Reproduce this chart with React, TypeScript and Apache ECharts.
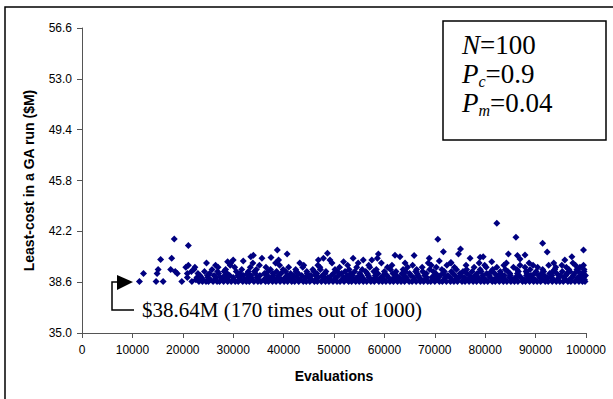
import { useEffect, useRef } from "react";
import * as echarts from "echarts";

// Axis settings
const Y_MIN = 35.0;
const Y_MAX = 56.6;
const Y_STEP = 3.6;
const X_MIN = 0;
const X_MAX = 100000;
const X_STEP = 10000;

// Evaluations (in thousands) of GA runs that ended at each least-cost level ($M)
const runs3864 = [11.4, 14.7, 16.1, 19.8, 21.8, 23.2, 23.9, 24.6, 25.1, 26.0, 26.8, 27.3, 28.1, 28.9, 29.6, 30.4, 31.0, 31.9, 32.6, 33.2, 34.1, 34.9, 35.5, 36.4, 37.0, 37.8, 38.5, 39.3, 40.1, 40.8, 41.6, 42.2, 43.0, 43.9, 44.5, 45.2, 46.1, 46.7, 47.5, 48.3, 49.0, 49.8, 50.6, 51.2, 52.0, 52.9, 53.5, 54.3, 55.0, 55.8, 56.5, 57.3, 58.0, 58.9, 59.6, 60.3, 61.1, 61.8, 62.6, 63.3, 64.0, 64.9, 65.5, 66.3, 67.1, 67.8, 68.6, 69.2, 70.0, 70.9, 71.5, 72.3, 73.1, 73.8, 74.5, 75.4, 76.0, 76.8, 77.6, 78.3, 79.1, 79.8, 80.5, 81.4, 82.0, 82.8, 83.6, 84.3, 85.1, 85.8, 86.5, 87.4, 88.0, 88.8, 89.6, 90.3, 91.0, 91.9, 92.5, 93.3, 94.1, 94.8, 95.5, 96.4, 97.0, 97.8, 98.6, 99.3, 99.8];
const runs3878 = [22.6, 24.0, 25.5, 26.4, 27.9, 29.0, 30.2, 31.5, 32.3, 33.8, 35.0, 36.1, 37.3, 38.2, 39.6, 40.5, 41.9, 43.3, 44.1, 45.6, 46.4, 47.9, 49.3, 50.1, 51.6, 52.4, 53.9, 55.2, 56.0, 57.6, 58.5, 59.9, 61.4, 62.2, 63.7, 64.5, 66.0, 67.3, 68.1, 69.6, 70.4, 71.8, 73.4, 74.2, 75.7, 76.6, 77.9, 79.4, 80.1, 81.7, 82.5, 83.9, 85.4, 86.2, 87.7, 88.4, 89.9, 91.3, 92.1, 93.6, 94.4, 95.9, 96.7, 98.1, 99.0, 99.7];
const runs3893 = [20.9, 22.8, 23.7, 25.0, 26.6, 27.5, 28.6, 30.0, 31.2, 32.9, 33.6, 34.7, 36.6, 37.6, 38.9, 40.3, 41.2, 42.7, 44.3, 45.0, 46.9, 48.0, 48.8, 50.4, 51.9, 53.1, 54.6, 55.6, 57.0, 58.3, 59.3, 60.8, 62.0, 63.0, 64.3, 65.8, 66.9, 68.4, 69.4, 70.7, 72.1, 73.0, 74.8, 75.9, 77.2, 78.6, 79.6, 81.0, 82.3, 83.3, 84.8, 86.0, 87.1, 88.6, 89.3, 90.8, 92.3, 93.0, 94.6, 95.6, 97.2, 98.4, 99.5];
const runs3907 = [23.4, 24.9, 26.2, 28.3, 29.3, 30.9, 32.0, 33.5, 35.3, 36.8, 38.0, 39.0, 40.7, 42.0, 43.6, 45.4, 46.3, 47.7, 49.5, 50.9, 52.6, 53.7, 55.4, 56.8, 58.2, 59.8, 60.5, 62.4, 63.9, 65.2, 66.7, 68.0, 69.9, 71.1, 72.6, 74.0, 75.2, 76.9, 78.0, 79.5, 80.8, 82.6, 83.8, 85.0, 86.7, 88.2, 89.1, 90.6, 91.7, 93.2, 94.9, 96.0, 97.5, 98.9, 99.9];
const runs3922 = [12.2, 14.9, 18.9, 20.9, 23.0, 25.3, 27.1, 28.8, 31.4, 32.8, 34.4, 36.2, 37.9, 39.5, 41.4, 42.9, 44.7, 46.6, 48.2, 49.9, 51.5, 53.3, 55.1, 56.6, 58.7, 60.1, 61.7, 63.5, 65.0, 66.5, 68.3, 70.2, 71.7, 73.6, 75.0, 76.4, 78.4, 80.3, 81.9, 83.1, 84.9, 86.4, 88.3, 89.8, 91.2, 92.8, 94.2, 96.2, 97.7, 99.4];
const runs3936 = [18.5, 21.7, 24.3, 26.9, 28.2, 30.6, 33.0, 34.2, 36.9, 38.6, 40.4, 42.5, 44.6, 46.0, 48.4, 50.7, 52.2, 54.1, 56.3, 57.9, 60.0, 62.3, 64.2, 66.2, 67.6, 69.7, 71.9, 73.3, 75.6, 77.4, 79.2, 81.2, 83.0, 84.5, 86.6, 88.1, 90.1, 91.6, 93.4, 95.3, 96.8, 98.5, 99.6];
const runs3950 = [15.1, 17.6, 22.2, 25.8, 28.5, 31.7, 34.6, 37.4, 39.9, 42.4, 45.8, 47.3, 50.2, 53.0, 55.6, 58.4, 61.2, 63.7, 66.4, 69.0, 71.4, 74.3, 76.3, 79.0, 81.5, 84.0, 86.3, 88.9, 91.4, 93.8, 96.6, 98.2, 99.6];
const runs3965 = [20.6, 22.4, 27.0, 30.3, 33.4, 36.5, 41.0, 43.8, 47.2, 51.1, 54.5, 57.1, 60.6, 64.6, 67.5, 70.3, 73.9, 77.8, 80.2, 82.3, 85.6, 87.9, 90.4, 94.0, 96.1, 98.8];
const runs3980 = [21.1, 26.5, 29.4, 35.2, 39.2, 44.0, 46.8, 52.7, 56.9, 61.5, 65.6, 69.3, 72.4, 76.2, 79.9, 83.7, 86.9, 89.5, 92.6, 95.2, 97.9, 99.5];
const runs3995 = [24.7, 29.5, 33.9, 38.4, 43.2, 49.6, 54.8, 59.4, 64.1, 68.7, 73.2, 78.8, 84.2, 88.7, 93.6, 97.4];

// Isolated higher-cost runs: [evaluations (thousands), cost $M]
const outlierRuns: [number, number][] = [
  [18.3, 41.66], [21.1, 41.2], [15.6, 40.2], [17.8, 40.3], [28.9, 40.05], [30.0, 40.17],
  [32.0, 40.1], [33.5, 40.4], [34.0, 40.5], [35.7, 40.3], [37.5, 40.34], [38.75, 40.88],
  [39.0, 40.17], [40.7, 40.6], [46.9, 40.17], [47.9, 40.3], [48.7, 40.65], [49.2, 40.17],
  [51.9, 40.05], [53.8, 40.3], [55.8, 40.17], [57.5, 40.17], [58.6, 40.3], [58.8, 40.6],
  [62.1, 40.5], [63.1, 40.4], [65.9, 40.48], [68.9, 40.3], [70.6, 41.64], [70.9, 40.1],
  [71.7, 40.76], [73.2, 40.0], [74.7, 40.6], [75.1, 40.95], [77.0, 40.29], [79.0, 40.36],
  [79.6, 40.4], [81.3, 40.05], [82.3, 42.77], [84.6, 40.6], [86.1, 41.78], [86.4, 40.48],
  [86.9, 40.24], [87.9, 40.53], [91.4, 41.36], [92.3, 40.74], [95.8, 40.17], [97.2, 40.4],
  [99.5, 40.88],
];

const levelRuns: [number, number[]][] = [
  [38.64, runs3864], [38.78, runs3878], [38.93, runs3893], [39.07, runs3907],
  [39.22, runs3922], [39.36, runs3936], [39.5, runs3950], [39.65, runs3965],
  [39.8, runs3980], [39.95, runs3995],
];

const legendLines = ["{i|N}{n|=100}", "{i|P}{s|c}{n|=0.9}", "{i|P}{s|m}{n|=0.04}"];
const annotationText = "$38.64M (170 times out of 1000)";

export default function App() {
  const ref = useRef<HTMLDivElement>(null);
  useEffect(() => {
    if (!ref.current) return;
    const chart = echarts.init(ref.current, null, { renderer: "svg" });
    const points: number[][] = [];
    levelRuns.forEach(([cost, runs]) => {
      runs.forEach((k) => points.push([k * 1000, cost - Y_MIN]));
    });
    outlierRuns.forEach(([k, cost]) => points.push([k * 1000, cost - Y_MIN]));

    const serif = "'Liberation Serif', 'Times New Roman', serif";
    const sans = "'Liberation Sans', Arial, sans-serif";
    const rich = {
      i: { fontFamily: serif, fontStyle: "italic", fontSize: 27, lineHeight: 30, fill: "#000" },
      n: { fontFamily: serif, fontSize: 27, lineHeight: 30, fill: "#000" },
      s: { fontFamily: serif, fontStyle: "italic", fontSize: 16, lineHeight: 16, verticalAlign: "bottom", fill: "#000" },
    };

    chart.setOption({
      animation: false,
      backgroundColor: "#fff",
      grid: { left: 82, right: 27, top: 28, bottom: 66, containLabel: false, outerBoundsMode: "none" },
      xAxis: {
        type: "value",
        min: X_MIN,
        max: X_MAX,
        interval: X_STEP,
        name: "Evaluations",
        nameLocation: "middle",
        nameGap: 36,
        nameTextStyle: { fontFamily: sans, fontWeight: "bold", fontSize: 14, color: "#000" },
        axisLine: { lineStyle: { color: "#555", width: 1 } },
        axisTick: { show: true, length: 5, inside: false, lineStyle: { color: "#555" } },
        axisLabel: {
          fontFamily: sans,
          fontSize: 12,
          color: "#000",
          margin: 11,
          formatter: (v: number) => String(Math.round(v)),
        },
        splitLine: { show: false },
      },
      yAxis: {
        type: "value",
        min: 0,
        max: Y_MAX - Y_MIN,
        interval: Y_STEP,
        name: "Least-cost in a GA run ($M)",
        nameLocation: "middle",
        nameGap: 46,
        nameTextStyle: { fontFamily: sans, fontWeight: "bold", fontSize: 14, color: "#000" },
        axisLine: { show: true, lineStyle: { color: "#555", width: 1 } },
        axisTick: { show: true, length: 5, inside: false, lineStyle: { color: "#555" } },
        axisLabel: {
          fontFamily: sans,
          fontSize: 12,
          color: "#000",
          margin: 10,
          formatter: (v: number) => (v + Y_MIN).toFixed(1),
        },
        splitLine: { show: false },
      },
      series: [
        {
          type: "scatter",
          data: points,
          symbol: "diamond",
          symbolSize: [7, 7],
          itemStyle: { color: "#000080", opacity: 1 },
        },
      ],
      graphic: [
        { type: "polyline", shape: { points: [[5, 399], [5, 7], [613, 7]] }, style: { fill: "none", stroke: "#000", lineWidth: 1.5 }, z: 10 },
        { type: "rect", shape: { x: 443, y: 21, width: 163, height: 119 }, style: { fill: "#fff", stroke: "#000", lineWidth: 1.5 }, z: 10 },
        ...legendLines.map((t, idx) => ({
          type: "text",
          x: 462,
          y: 45 + idx * 29,
          z: 11,
          style: { text: t, rich, verticalAlign: "middle", align: "left" },
        })),
        { type: "polygon", shape: { points: [[117, 275], [133, 282], [117, 290]] }, style: { fill: "#000" }, z: 10 },
        { type: "polyline", shape: { points: [[134, 310], [112, 310], [112, 282], [118, 282]] }, style: { stroke: "#000", lineWidth: 1.5, fill: "none" }, z: 10 },
        {
          type: "text",
          x: 142,
          y: 310,
          z: 10,
          style: { text: annotationText, fontFamily: serif, fontSize: 21, fill: "#000", verticalAlign: "middle", align: "left" },
        },
      ],
    });
    return () => chart.dispose();
  }, []);
  return <div ref={ref} style={{ position: "fixed", left: 0, top: 0, width: 613, height: 399 }} />;
}
